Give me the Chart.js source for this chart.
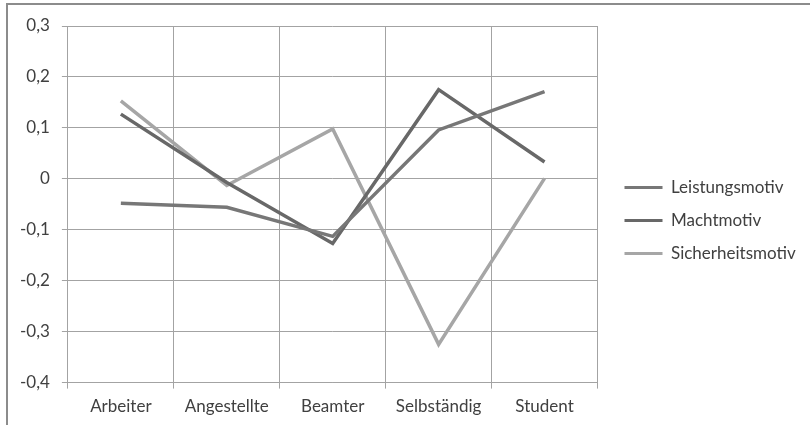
<!DOCTYPE html>
<html>
<head>
<meta charset="utf-8">
<script src="https://cdn.jsdelivr.net/npm/chart.js@4.4.1/dist/chart.umd.min.js"></script>
<style>
  html, body { margin: 0; padding: 0; background: #ffffff; }
  #wrap { position: relative; width: 810px; height: 425px; }
</style>
</head>
<body>
<div id="wrap"><canvas id="chart" width="810" height="425"></canvas></div>
<script>
// Occupational groups on the x axis
const categories = ['Arbeiter', 'Angestellte', 'Beamter', 'Selbständig', 'Student'];

// Mean motive scores per group
const leistungsmotiv   = [-0.048, -0.056, -0.113, 0.096, 0.171];
const machtmotiv       = [0.127, -0.007, -0.127, 0.175, 0.033];
const sicherheitsmotiv = [0.153, -0.013, 0.098, -0.325, 0.001];

const seriesNames = ['Leistungsmotiv', 'Machtmotiv', 'Sicherheitsmotiv'];

// Value axis range and step
const yMin = -0.4;
const yMax = 0.3;
const yStep = 0.1;

const FONT = 'Lato, "Open Sans", sans-serif';
const TEXT = '#404040';
const GRID = '#a3a3a3';

// Thin frame drawn round the whole figure
const framePlugin = {
  id: 'frame',
  beforeDraw(chart) {
    const ctx = chart.ctx;
    ctx.save();
    ctx.fillStyle = '#ffffff';
    ctx.fillRect(0, 0, chart.width, chart.height);
    ctx.strokeStyle = '#8c8c8c';
    ctx.lineWidth = 2;
    ctx.strokeRect(7, 4, chart.width + 20, chart.height + 20);
    ctx.restore();
  }
};

// Leave a wider gap between the plot and the legend block
const legendShift = {
  id: 'legendShift',
  afterLayout(chart) {
    const lg = chart.legend;
    if (!lg) return;
    const dx = 11, dy = -5;
    lg.left += dx; lg.right += dx;
    lg.top += dy; lg.bottom += dy;
  }
};

function fmt(v) {
  const r = Math.round(v * 10) / 10;
  if (r === 0) return '0';
  return r.toFixed(1).replace('.', ',');
}

new Chart(document.getElementById('chart'), {
  type: 'line',
  data: {
    labels: categories,
    datasets: [
      { label: seriesNames[0], data: leistungsmotiv,   borderColor: '#777777', backgroundColor: '#777777' },
      { label: seriesNames[1], data: machtmotiv,       borderColor: '#686868', backgroundColor: '#686868' },
      { label: seriesNames[2], data: sicherheitsmotiv, borderColor: '#a6a6a6', backgroundColor: '#a6a6a6' }
    ]
  },
  options: {
    responsive: false,
    animation: false,
    devicePixelRatio: 1,
    layout: { padding: { left: 8, top: 26, bottom: 0, right: 16 } },
    elements: {
      line: { borderWidth: 3.5, tension: 0, fill: false },
      point: { radius: 0, hoverRadius: 0 }
    },
    scales: {
      x: {
        type: 'category',
        offset: true,
        grid: { offset: true, color: GRID, lineWidth: 1, drawTicks: true, tickLength: 6, tickColor: GRID },
        border: { color: GRID, width: 1 },
        ticks: { color: TEXT, font: { family: FONT, size: 17 }, padding: 8, maxRotation: 0, autoSkip: false }
      },
      y: {
        min: yMin,
        max: yMax,
        grid: { color: GRID, lineWidth: 1, drawTicks: true, tickLength: 6, tickColor: GRID },
        border: { color: GRID, width: 1 },
        ticks: { stepSize: yStep, color: TEXT, font: { family: FONT, size: 17 }, padding: 12, callback: fmt }
      }
    },
    plugins: {
      tooltip: { enabled: false },
      legend: {
        position: 'right',
        align: 'center',
        labels: {
          color: TEXT,
          font: { family: FONT, size: 17 },
          boxWidth: 38,
          boxHeight: 3,
          padding: 16,
          generateLabels(chart) {
            return Chart.defaults.plugins.legend.labels.generateLabels(chart)
              .map(item => Object.assign(item, { lineWidth: 0 }));
          }
        }
      }
    }
  },
  plugins: [framePlugin, legendShift]
});
</script>
</body>
</html>
